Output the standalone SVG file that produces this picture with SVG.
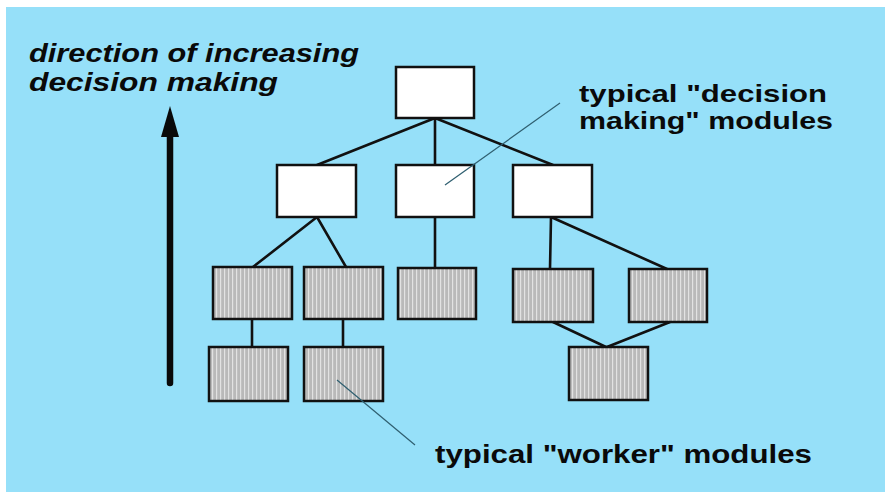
<svg xmlns="http://www.w3.org/2000/svg" width="887" height="497" viewBox="0 0 887 497">
<style>
.bg{fill:#96E0F9}
.dm{fill:#ffffff;stroke:#111;stroke-width:2.5}
.wk{fill:url(#hatch);stroke:#111;stroke-width:2.5}
.c{stroke:#111;stroke-width:2.6;fill:none;stroke-linecap:round}
.lead{stroke:#2f5f70;stroke-width:1.2;fill:none}
.t{font-family:"Liberation Sans",Arial,sans-serif;font-weight:bold;font-size:26px;fill:#0a0a0a}
.s{font-size:24px}
.ti{font-style:italic}
</style>
<defs>
<pattern id="hatch" patternUnits="userSpaceOnUse" width="4" height="4">
<rect width="4" height="4" fill="#b9b9b9"/>
<rect x="0" width="1.2" height="4" fill="#e2e2e2"/>
</pattern>
</defs>
<rect x="0" y="0" width="887" height="497" fill="#ffffff"/>
<rect class="bg" x="6" y="7" width="879" height="485"/>

<g id="connectors">
<path class="c" d="M435,118 L317,165"/>
<path class="c" d="M435,118 L435,165"/>
<path class="c" d="M435,118 L553,165"/>
<path class="c" d="M317,217 L253,267"/>
<path class="c" d="M317,217 L346,267"/>
<path class="c" d="M435,217 L435,267"/>
<path class="c" d="M551,217 L550,269"/>
<path class="c" d="M551,217 L667,269"/>
<path class="c" d="M252,319 L252,347"/>
<path class="c" d="M343,319 L343,347"/>
<path class="c" d="M553,322 L606,347"/>
<path class="c" d="M670,322 L607,347"/>
</g>

<g id="arrow">
<line x1="170" y1="383" x2="170" y2="136" stroke="#0a0a0a" stroke-width="6.5" stroke-linecap="round"/>
<path d="M170,106 L179,137 L161,137 z" fill="#0a0a0a"/>
</g>

<g id="top"><rect class="dm" x="396" y="67" width="78" height="51"/></g>
<g id="mid1"><rect class="dm" x="277" y="165" width="79" height="52"/></g>
<g id="mid2"><rect class="dm" x="396" y="165" width="78" height="52"/></g>
<g id="mid3"><rect class="dm" x="513" y="165" width="79" height="52"/></g>

<g id="w1"><rect class="wk" x="213" y="267" width="79" height="52"/></g>
<g id="w2"><rect class="wk" x="304" y="267" width="79" height="52"/></g>
<g id="w3"><rect class="wk" x="398" y="268" width="78" height="51"/></g>
<g id="w4"><rect class="wk" x="513" y="269" width="80" height="53"/></g>
<g id="w5"><rect class="wk" x="629" y="269" width="78" height="53"/></g>
<g id="w6"><rect class="wk" x="209" y="347" width="79" height="54"/></g>
<g id="w7"><rect class="wk" x="304" y="347" width="79" height="54"/></g>
<g id="w8"><rect class="wk" x="569" y="347" width="79" height="53"/></g>

<g id="leaders">
<line class="lead" x1="560" y1="103" x2="445" y2="185"/>
<line class="lead" x1="337" y1="380" x2="415" y2="445"/>
</g>

<g id="labels">
<text class="t ti" x="29" y="62" textLength="330" lengthAdjust="spacingAndGlyphs">direction of increasing</text>
<text class="t ti" x="29" y="91" textLength="249" lengthAdjust="spacingAndGlyphs">decision making</text>
<text class="t s" x="579" y="102" textLength="248" lengthAdjust="spacingAndGlyphs">typical "decision</text>
<text class="t s" x="579" y="129" textLength="254" lengthAdjust="spacingAndGlyphs">making" modules</text>
<text class="t" x="435" y="463" textLength="377" lengthAdjust="spacingAndGlyphs">typical "worker" modules</text>
</g>
</svg>
